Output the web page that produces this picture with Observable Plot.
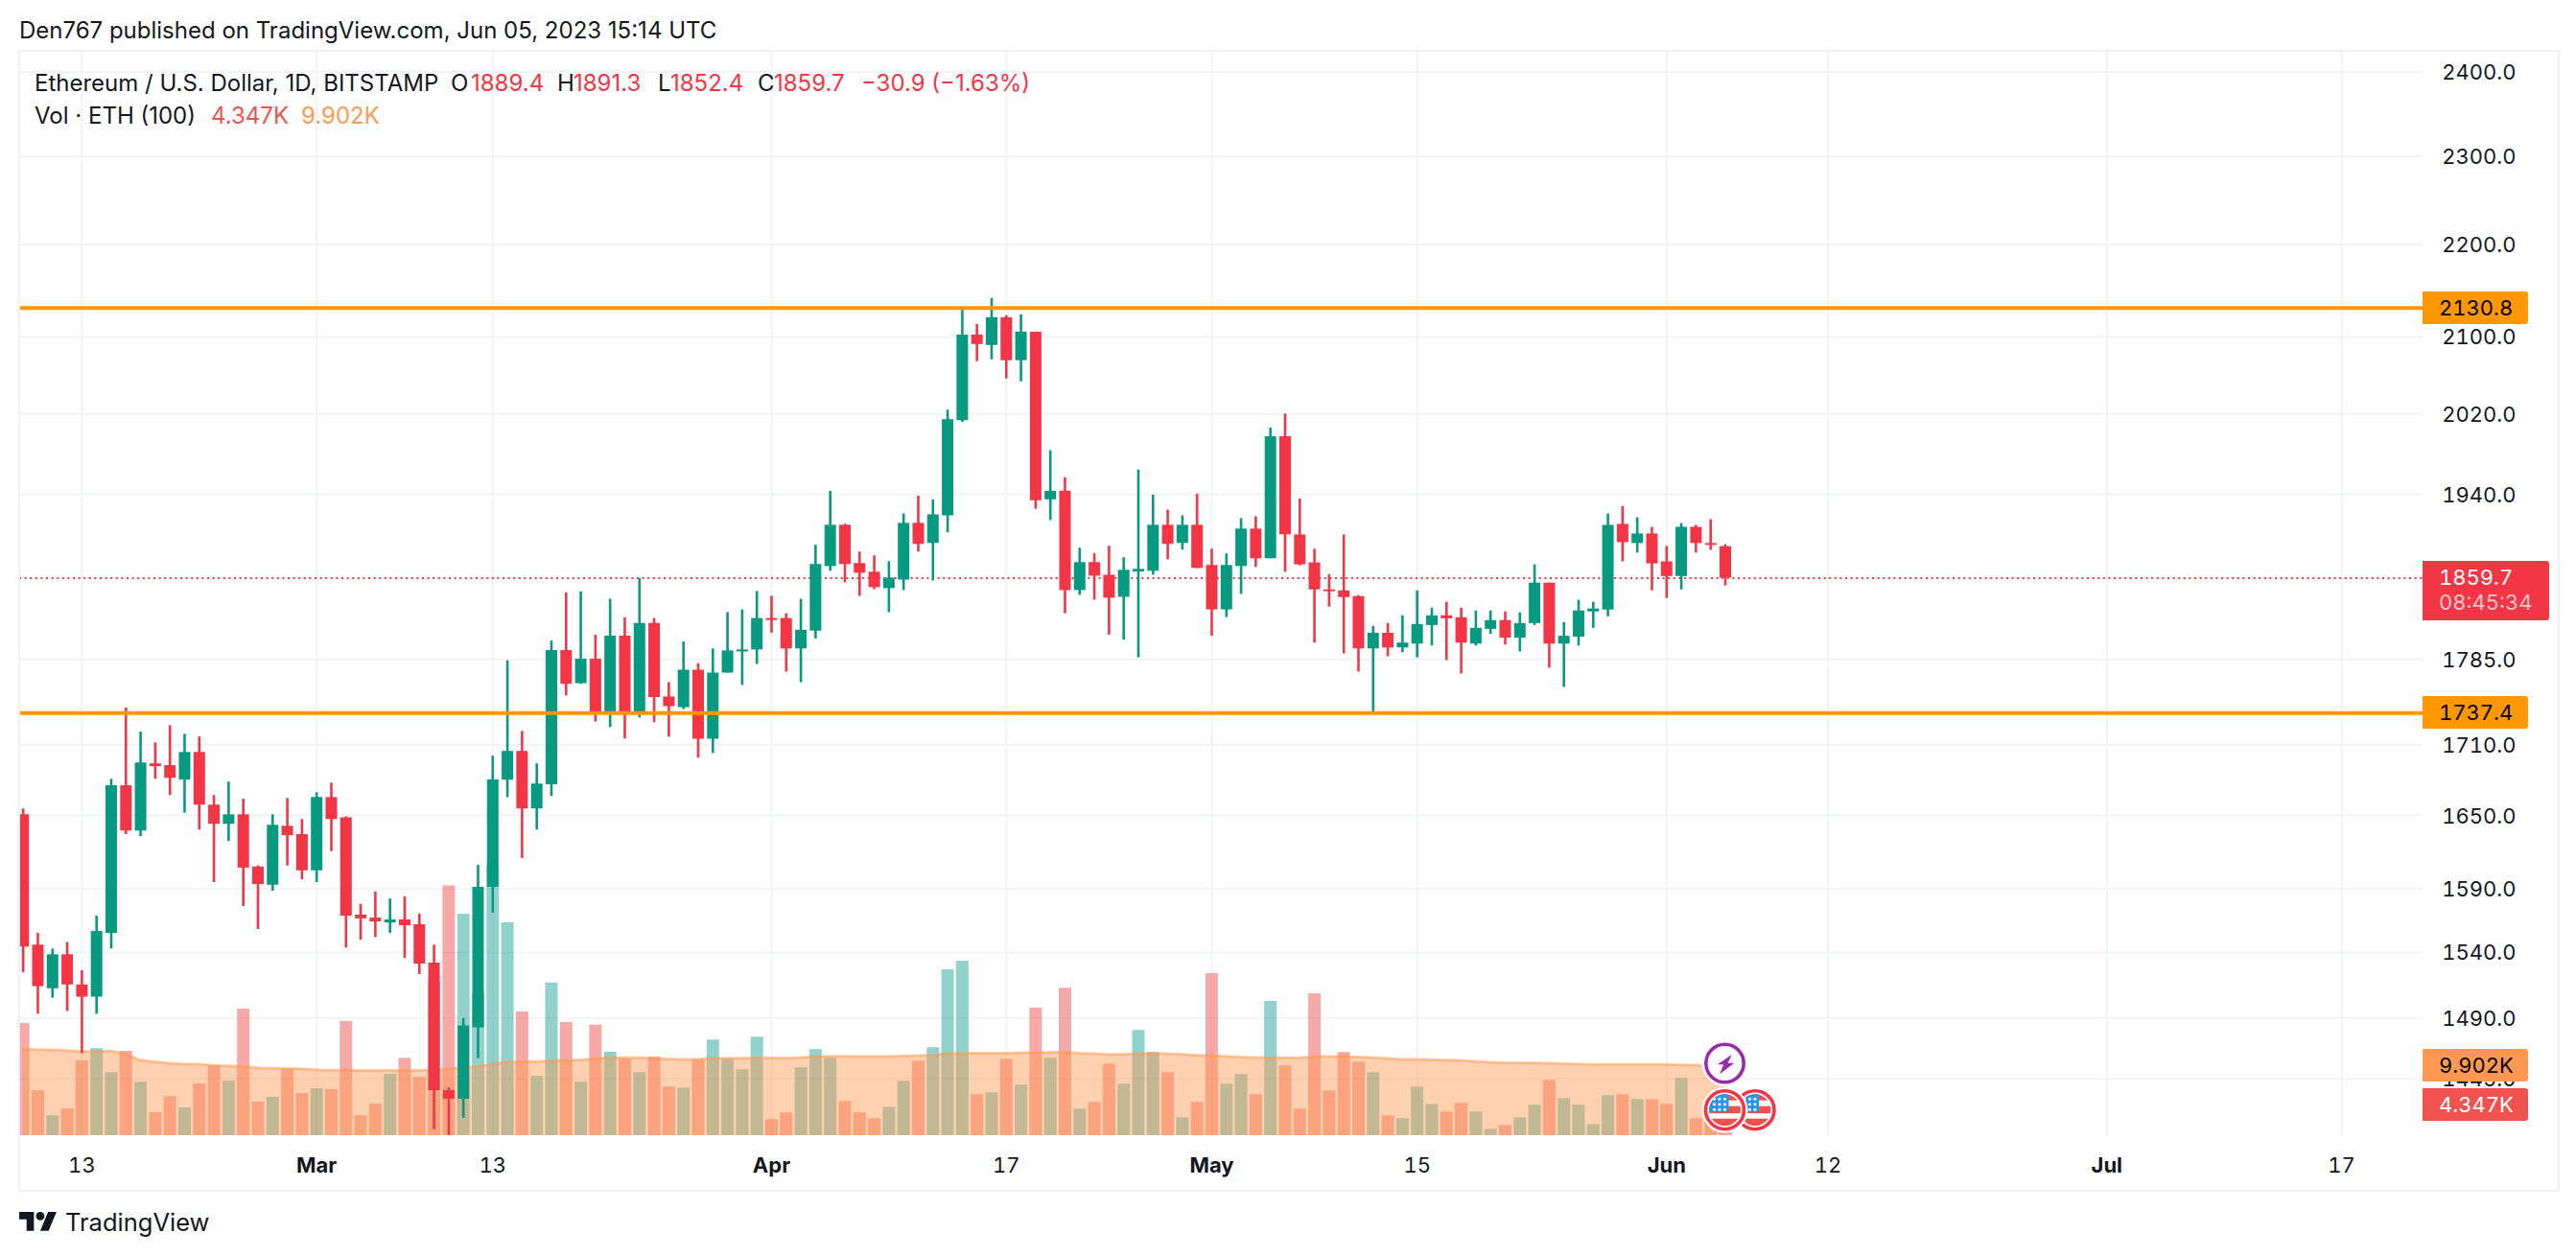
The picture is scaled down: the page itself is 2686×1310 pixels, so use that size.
<!DOCTYPE html>
<html>
<head>
<meta charset="utf-8">
<script src="https://cdn.jsdelivr.net/npm/d3@7"></script>
<script src="https://cdn.jsdelivr.net/npm/@observablehq/plot@0.6"></script>
<style>
html,body{margin:0;padding:0;background:#fff;}
#page{position:relative;width:2686px;height:1310px;overflow:hidden;font-family:Inter,sans-serif;color:#131722;}
#page svg.layer,#page>div>svg{position:absolute;left:0;top:0;}
.abs{position:absolute;white-space:nowrap;}
.tag{position:absolute;left:2526px;width:110px;height:34px;line-height:34px;padding-left:17px;box-sizing:border-box;font-size:22px;font-variant-numeric:tabular-nums;border-radius:0 3px 3px 0;}
</style>
</head>
<body>
<div id="page"></div>
<script>
// ---- data (ETH/USD daily, 2023-02-09 .. 2023-06-05) ----
const firstDay = "2023-02-09";
const open = [1650.6,1545.7,1512.1,1538.2,1515,1505.7,1554.9,1674.9,1637.2,1693.5,1692,1679.8,1703.3,1658.7,1642.8,1650.6,1607.8,1593.1,1641.1,1634.2,
 1604.7,1665,1648.1,1569.3,1566.9,1563.1,1565.5,1561.7,1531.7,1436.4,1430.3,1482.6,1591.4,1679.8,1704.2,1655.5,1675.8,1793,1763.4,1785.3,1737.4,1806,1738.2,1817.7,1751.6,1742.2,1775.4,1714.7,1772.8,1791.8,1793.6,
 1822.2,1822.2,1794.5,1810.6,1870.6,1909.9,1873.4,1865.2,1849.9,1857.9,1911.7,1892.5,1919,2013.3,2102,2091,2120.5,2075,2105,1934.5,1942.9,1848.1,1874.3,1862.4,1841.8,1865.5,1866.1,1909.9,1892.5,1909.9,
 1871.6,1830.2,1870.6,1906.2,1877.9,1997.1,1900.6,1874,1848.7,1847.8,1842.5,1794.5,1808.7,1795.4,1798.9,1815.8,1824.7,1822.9,1798.9,1812.3,1820.3,1804.3,1817.6,1855,1798.9,1805.2,1828.3,1830.1,1910.7,1892.4,1901.5,
 1875,1861.2,1907.9,1892.4,1889.4];
const high = [1655.5,1554.9,1542.7,1547.8,1525.8,1568.5,1680.4,1741.8,1720.8,1711.5,1726.5,1719,1716.6,1666.8,1678.1,1663.6,1608.6,1650.6,1664.2,1646.7,
 1669.1,1677.2,1648.9,1577.8,1587.6,1582.1,1583.7,1570.1,1545.7,1438.4,1489.7,1609.1,1700.1,1783.8,1721.4,1693.5,1801.7,1846,1846.9,1807,1840,1823,1859.4,1822.2,1764.3,1800.8,1781.3,1794.5,1827.6,1830.2,1847.2,
 1842.7,1826.7,1840,1890.7,1942.8,1910.8,1884.3,1880.7,1875.2,1920.8,1938.2,1934.5,2024,2130.8,2113.3,2141,2122.6,2123.6,2105,1982.9,1956.2,1888,1882.5,1889.8,1878.9,1963.8,1939.1,1924.5,1919,1940,
 1887.1,1882.5,1916.3,1918.1,2005.7,2020,1935.4,1886.9,1863,1900.6,1843.4,1814.9,1817.6,1824.7,1847.8,1831.8,1837.2,1831.8,1829.2,1829.2,1828.3,1827.4,1872.2,1855,1818.5,1839,1837.2,1920.8,1928.1,1917.1,1907.9,
 1889.6,1911.6,1909.8,1915.3,1891.3];
const low = [1524.5,1492.8,1504.9,1494.9,1463.4,1492.8,1542.7,1634.2,1632.5,1680.4,1666.8,1652,1638,1595.2,1628.6,1576.1,1557.9,1588.4,1608.6,1597.5,
 1595.2,1620.3,1543.5,1549.5,1551.6,1554.9,1535.4,1523,1408.5,1404.3,1416.6,1459.8,1570.7,1665,1614.7,1638,1666,1752.6,1762.8,1729.6,1724.8,1714.8,1733.2,1729,1716.4,1740.5,1698.4,1702.4,1772.8,1761.8,1780.5,
 1808.8,1773.7,1764.3,1803.5,1866.1,1855.2,1842.7,1849,1827.6,1848.1,1884.3,1857,1902.6,2011.4,2074,2076,2056,2053,1925.4,1914.4,1826.7,1843.6,1839.2,1807,1802.6,1786.5,1862.4,1877,1886.1,1868.8,
 1806.1,1823.1,1844.5,1869.7,1877.9,1865.2,1871.3,1799.8,1832.7,1790,1773.7,1737.4,1787.4,1791,1786.5,1797.2,1783.9,1772,1797.2,1807.8,1798,1791.8,1815.8,1777.1,1760.1,1797.2,1813.2,1823.8,1875,1883.2,1847.8,
 1840.7,1848.7,1883.2,1885.9,1852.4];
const close = [1544.3,1513.7,1538.2,1515,1505.7,1556.3,1674.9,1637.2,1694.3,1691.2,1681.3,1703.3,1658.7,1642.8,1650.6,1606.9,1593.6,1641.9,1633.3,1604.7,
 1665,1646.7,1568.5,1566.3,1563.9,1565.5,1560.9,1531,1436.4,1430.3,1484.1,1591.4,1679.8,1704.2,1655.5,1676.4,1793,1762.8,1785.3,1736.5,1806,1737.4,1817.7,1751,1743.1,1775.4,1714.7,1772.8,1792.7,1793.6,1822.2,
 1820.4,1794.5,1811.5,1872.5,1909.9,1872.5,1864.3,1850.8,1859.7,1911.7,1891.6,1919.9,2014.3,2102,2092,2120.5,2075,2105,1933.6,1942.9,1848.1,1874.3,1861.5,1841,1867,1867.9,1909.9,1891.6,1909.9,1868.8,
 1830.2,1871.6,1906.2,1877.9,1997.1,1900.8,1872.2,1848.7,1847,1841.6,1794.5,1808.7,1795.4,1799.8,1816.7,1824.7,1822,1799.8,1813.2,1820.3,1804.3,1817.6,1855,1798.9,1806,1829.2,1831,1909.8,1893.3,1901.5,1873.1,
 1861.2,1907.9,1892.4,1890.6,1859.7];
const volume = [15.83,6.34,2.81,3.78,10.55,12.29,8.91,11.91,7.55,3.24,5.52,3.92,7.31,9.87,7.7,17.86,4.74,5.42,9.34,5.95,
 6.63,6.49,16.12,2.81,4.45,8.66,10.94,8.23,21.78,35.24,31.27,20.09,38.04,30.06,17.47,8.37,21.54,15.97,7.55,15.58,11.76,10.84,8.91,11.08,6.87,6.73,10.66,13.51,10.8,9.3,13.91,
 2.26,3.21,9.58,12.15,10.93,4.83,3.21,2.39,4.02,7.68,10.52,12.42,23.4,24.62,5.78,6.05,10.8,7.14,17.98,10.93,20.82,3.75,4.7,10.12,7.27,14.86,11.74,8.9,2.53,4.7,
 22.86,7.27,8.63,5.78,18.93,9.85,3.75,20.01,6.32,11.74,10.39,8.9,2.8,2.39,6.87,4.43,3.34,4.56,3.34,0.9,1.45,2.53,4.29,7.81,5.24,4.29,1.58,5.65,5.78,5.1,5.1,
 4.43,8.09,2.39,3,4.347];
const volumeMA = [12.2,12.15,12.1,12,11.86,11.86,11.95,11.52,10.65,10.41,10.21,10.12,10.07,9.92,9.83,9.73,9.58,9.49,9.49,9.44,
 9.29,9.24,9.24,9.2,9.2,9.2,9.2,9.24,9.24,9.44,9.58,9.78,10.12,10.41,10.41,10.45,10.6,10.65,10.7,10.89,10.99,11.04,10.99,10.94,10.84,10.75,10.8,10.93,10.93,10.93,10.98,
 10.98,10.93,11.02,11.16,11.2,11.2,11.16,11.16,11.16,11.25,11.29,11.38,11.56,11.65,11.65,11.65,11.65,11.7,11.74,11.74,11.79,11.65,11.56,11.47,11.47,11.56,11.61,11.56,11.47,11.38,
 11.25,11.2,11.11,11.02,11.02,10.98,10.98,11.16,11.16,11.16,11.11,11.02,10.89,10.75,10.75,10.71,10.66,10.62,10.48,10.34,10.3,10.3,10.25,10.21,10.16,10.12,10.03,10.03,10.03,10.03,10.03,
 10.03,9.98,9.94,9.92,9.902];
const priceTicks = [2400,2300,2200,2100,2020,1940,1785,1710,1650,1590,1540,1490,1445];
const monthTicks = [["2023-03-01","Mar"],["2023-04-01","Apr"],["2023-05-01","May"],["2023-06-01","Jun"],["2023-07-01","Jul"]];
const dayTicks = [["2023-02-13","13"],["2023-03-13","13"],["2023-04-17","17"],["2023-05-15","15"],["2023-06-12","12"],["2023-07-17","17"]];
const levels = [2130.8,1737.4];
const lastPrice = 1859.7, lastVolume = 4.347, lastMA = 9.902;
const titleText = "Den767 published on TradingView.com, Jun 05, 2023 15:14 UTC";

// ---- scale set-up ----
const up = "#089981", down = "#f23645";
const d0 = new Date(firstDay + "T00:00Z");
const table = d3.range(open.length).map(i => ({
  date: new Date(+d0 + i * 864e5), o: open[i], h: high[i], l: low[i], c: close[i],
  v: volume[i], ma: volumeMA[i], color: close[i] >= open[i] ? up : down,
  volColor: close[i] >= open[i] ? "#26a69a" : "#ef5350"
}));
const D = s => new Date(s + "T00:00Z");
const base = {
  width: 2686, height: 1310, marginLeft: 20, marginRight: 160, marginTop: 54, marginBottom: 126,
  style: {background: "transparent", fontFamily: "Inter,sans-serif", color: "#131722", overflow: "visible"},
  className: "layer"
};
const xOpt = {type: "utc", domain: [new Date(Date.UTC(2023,1,8,18,14)), new Date(Date.UTC(2023,6,22,13,12))], axis: null};
const yOpt = {type: "log", domain: [1404.2, 2423.9]};
const grid = "#f2f3f6";

// layer 1: grid + axes
const gridPlot = Plot.plot({...base,
  x: {type: xOpt.type, domain: xOpt.domain},
  y: yOpt,
  marks: [
    Plot.ruleY(priceTicks, {stroke: grid, strokeWidth: 2}),
    Plot.ruleX([...monthTicks, ...dayTicks], {x: d => D(d[0]), stroke: grid, strokeWidth: 2}),
    Plot.axisY(priceTicks, {anchor: "right", tickSize: 0, tickPadding: 97, textAnchor: "end", fontSize: 22, dy: 1, label: null, fill: "#131722", tickFormat: d => d.toFixed(1)}),
    Plot.axisX(dayTicks.map(d => D(d[0])), {anchor: "bottom", tickSize: 0, tickPadding: 23, fontSize: 22, label: null, fill: "#131722", tickFormat: d => dayTicks.find(t => +D(t[0]) === +d)[1]}),
    Plot.axisX(monthTicks.map(d => D(d[0])), {anchor: "bottom", tickSize: 0, tickPadding: 23, fontSize: 22, fontWeight: 700, label: null, fill: "#131722", tickFormat: d => monthTicks.find(t => +D(t[0]) === +d)[1]})
  ]
});

// layer 2: volume + moving average
const volPlot = Plot.plot({...base,
  x: xOpt,
  y: {domain: [0, 152.9], axis: null},
  marks: [
    Plot.ruleX(table, {x: "date", y1: 0, y2: "v", stroke: "volColor", strokeOpacity: 0.5, strokeWidth: 13, clip: true}),
    Plot.areaY(table, {x: "date", y1: 0, y2: "ma", fill: "#ff9850", fillOpacity: 0.45, clip: true}),
    Plot.lineY(table, {x: "date", y: "ma", stroke: "#ff9850", strokeOpacity: 0.45, strokeWidth: 3, clip: true})
  ]
});

// layer 3: candles + level lines
const pricePlot = Plot.plot({...base,
  x: xOpt,
  y: {...yOpt, axis: null},
  marks: [
    Plot.ruleY([lastPrice], {stroke: down, strokeWidth: 2, strokeDasharray: "2 3.6"}),
    Plot.ruleX(table, {x: "date", y1: "l", y2: "h", stroke: "color", strokeWidth: 2.6, clip: true}),
    Plot.ruleX(table, {x: "date", y1: "o", y2: "c", stroke: "color", strokeWidth: 12, clip: true}),
    Plot.ruleY(levels, {stroke: "#ff9800", strokeWidth: 4})
  ]
});

const page = document.getElementById("page");
for (const p of [gridPlot, volPlot, pricePlot]) {
  const svg = p.tagName.toLowerCase() === "svg" ? p : p.querySelector("svg");
  svg.style.position = "absolute"; svg.style.left = "0"; svg.style.top = "0";
  page.appendChild(p);
}

// ---- frame, titles, legend, tags, icons (positions follow the scales) ----
const frame = document.createElement("div");
frame.style.cssText = "position:absolute;left:19px;top:52px;width:2646px;height:1187px;border:2px solid #f0f1f6;box-sizing:content-box;pointer-events:none";
page.appendChild(frame);

function label(text, left, top, size, color, extra = "") {
  const e = document.createElement("div");
  e.className = "abs";
  e.textContent = text;
  e.style.cssText = `left:${left}px;top:${top}px;font-size:${size}px;line-height:30px;color:${color};${extra}`;
  page.appendChild(e);
  return e;
}
label(titleText, 20, 17, 24, "#131722");
const R = "#f23645", K = "#131722";
[["Ethereum / U.S. Dollar, 1D, BITSTAMP",36,K],["O",470,K],["1889.4",491,R],["H",581,K],["1891.3",598,R],["L",686,K],["1852.4",699,R],["C",790,K],["1859.7",807,R],["\u221230.9 (\u22121.63%)",898,R]]
  .forEach(([t,x,c]) => label(t, x, 72, 24, c));
[["Vol \u00b7 ETH (100)",36,K],["4.347K",220,"#ef5350"],["9.902K",314,"#ff9850"]]
  .forEach(([t,x,c]) => label(t, x, 106, 24, c));
label("TradingView", 68, 1260, 25.5, "#131722");

const logo = document.createElementNS("http://www.w3.org/2000/svg", "svg");
logo.setAttribute("viewBox", "0 0 36 18");
logo.style.cssText = "position:absolute;left:20px;top:1264px;width:39.5px;height:19.7px";
logo.innerHTML = '<path fill="#131722" d="M14 18H7V7H0V0h14zM28 18h-8L27.5 0h8z"/><circle fill="#131722" cx="20" cy="4" r="4"/>';
page.appendChild(logo);

const yP = v => pricePlot.scale("y").apply(v);
const yV = v => volPlot.scale("y").apply(v);
const xP = d => pricePlot.scale("x").apply(d);
function tag(text, cy, bg, fg) {
  const e = document.createElement("div");
  e.className = "tag";
  e.textContent = text;
  e.style.top = (cy - 17) + "px";
  e.style.background = bg; e.style.color = fg;
  page.appendChild(e);
  return e;
}
tag("2130.8", yP(2130.8), "#ff9800", "#000");
tag("1737.4", yP(1737.4), "#ff9800", "#000");
const redTag = tag("1859.7", yP(lastPrice), "#f23645", "#fff");
redTag.style.cssText += ";width:132px;height:62px";
const cd = document.createElement("div");
cd.textContent = "08:45:34";
cd.style.cssText = "color:rgba(255,255,255,.72);margin-top:-6px;line-height:30px";
redTag.appendChild(cd);
tag("9.902K", yV(lastMA), "#ff9850", "#000");
tag("4.347K", yV(lastVolume), "#ef5350", "#fff");

// event icons
const cx = xP(table[table.length - 1].date), s2 = cx + 31.5;
const ic = document.createElementNS("http://www.w3.org/2000/svg", "svg");
ic.setAttribute("width", 2686); ic.setAttribute("height", 1310);
ic.style.cssText = "position:absolute;left:0;top:0";
function flag(x, y, id) {
  const stars = [];
  for (const r of [-11.5, -6, -0.5]) for (const c of [-11, -5.5, 0]) stars.push(`<circle cx="${x + c}" cy="${y + r}" r="1.5" fill="#fff"/>`);
  return `<circle cx="${x}" cy="${y}" r="24" fill="#fff"/>
  <circle cx="${x}" cy="${y}" r="20" fill="#fff" stroke="#f23645" stroke-width="3.6"/>
  <clipPath id="${id}"><circle cx="${x}" cy="${y}" r="16.5"/></clipPath>
  <g clip-path="url(#${id})">
    <rect x="${x-17}" y="${y-17}" width="34" height="7" fill="#ef5350"/>
    <rect x="${x-17}" y="${y-4}" width="34" height="7.5" fill="#ef5350"/>
    <rect x="${x-17}" y="${y+9}" width="34" height="8" fill="#ef5350"/>
    <rect x="${x-17}" y="${y-17}" width="21" height="19" fill="#2196f3"/>
    ${stars.join("")}
  </g>`;
}
ic.innerHTML = `<circle cx="${cx}" cy="1109" r="24" fill="#fff"/>
  <circle cx="${cx}" cy="1109" r="19.7" fill="#fff" stroke="#9c27b0" stroke-width="3.6"/>
  <path fill="#9c27b0" d="M${cx+7.3} 1100L${cx-7.7} 1110.3H${cx-1.3}L${cx-5.3} 1120.3L${cx+9.7} 1108.7H${cx+3}z"/>`
  + flag(s2, 1157.7, "fb") + flag(cx, 1157.7, "fa");
page.appendChild(ic);
</script>
</body>
</html>
